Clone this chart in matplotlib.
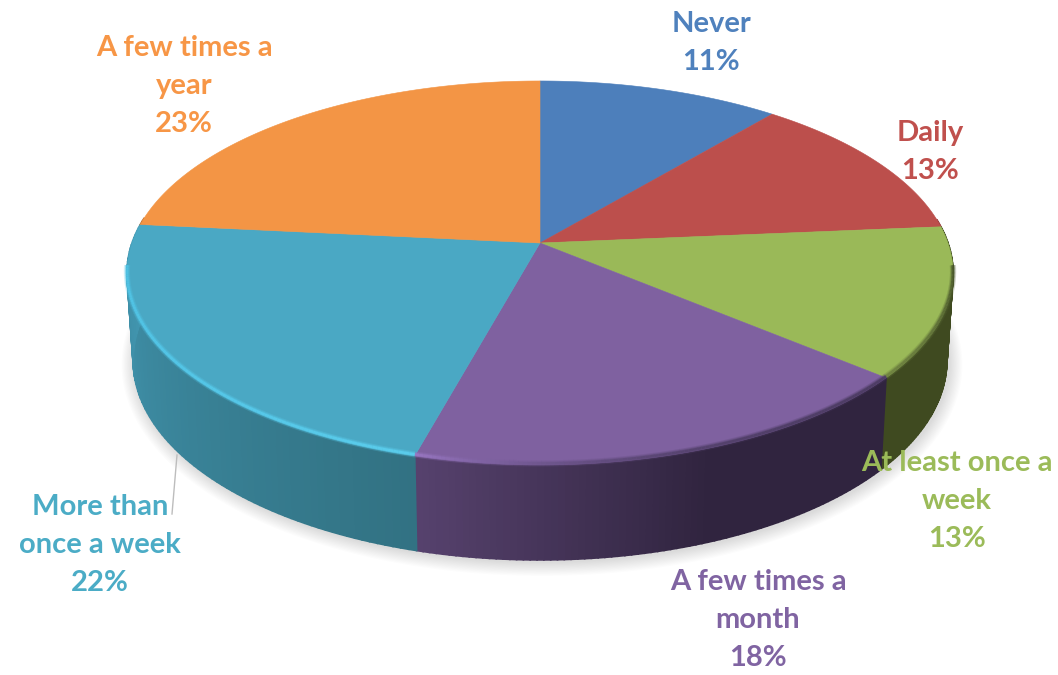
import numpy as np
import matplotlib
matplotlib.use('Agg')
import matplotlib.pyplot as plt
from matplotlib.patches import Polygon
from matplotlib.collections import LineCollection

# shares, clockwise from 12 o'clock
categories = ['Never', 'Daily', 'At least once a\nweek', 'A few times a\nmonth',
              'More than\nonce a week', 'A few times a\nyear']
values = [11.0, 12.6, 12.6, 18.0, 22.4, 23.4]

top_colors = ['#4d7fbb', '#bc4f4c', '#9ab958', '#7f61a0', '#4aa8c4', '#f39545']
text_colors = ['#4f81bd', '#c0504d', '#9bbb59', '#8064a2', '#4bacc6', '#f79646']
# side wall colour at start and end of each slice (clockwise, so right to left on the front)
side_colors = [('#3a5f8c', '#3a5f8c'), ('#8c3b39', '#8c3b39'), ('#3f4a20', '#3f4a20'),
               ('#30243f', '#57426e'), ('#327283', '#4297b1'), ('#b06a30', '#b06a30')]
rim_colors = [('#5a90d0', '#5a90d0'), ('#d06060', '#d06060'), ('#46532a', '#6d8040'),
              ('#4a3a60', '#9a78c4'), ('#5cd0f0', '#50c4e6'), ('#ffa860', '#ffa860')]
label_xy = [(711, 43), (930, 152), (957, 501), (758, 620), (100, 545), (184, 86)]

CX, CY = 540, 243
R, H, K = 408, 187.3, 0.156


def project(theta):
    # projective map of the unit disc, theta clockwise from the top
    u, v = np.sin(theta), np.cos(theta)
    w = 1 + K * v
    return CX + R * u / w, CY - H * v / w


def project_bottom(theta):
    x, y = project(theta)
    v = np.cos(theta)
    return CX + (x - CX) * 0.985, y + 86 + 9 * np.clip(-v, 0, 1)


def mix(c1, c2, t):
    a = np.array(matplotlib.colors.to_rgb(c1))
    b = np.array(matplotlib.colors.to_rgb(c2))
    return tuple(a + (b - a) * t)


fig = plt.figure(figsize=(10.58, 6.75), dpi=100)
ax = fig.add_axes([0, 0, 1, 1])
ax.set_xlim(0, 1058)
ax.set_ylim(675, 0)
ax.axis('off')

edges = np.concatenate([[0], np.cumsum(values)]) / sum(values) * 2 * np.pi

# soft shadow under the disc
all_t = np.linspace(0, 2 * np.pi, 300)
bx, by = project_bottom(all_t)
for grow in np.linspace(14, 1, 12):
    ax.fill((bx - CX) * (1 + grow / 420) + CX + 2, (by - 320) * (1 + grow / 240) + 320 + 2,
            color='black', alpha=0.012, lw=0, zorder=1)

# side wall, only the part of the rim facing the viewer
for i in range(len(values)):
    t = np.linspace(edges[i], edges[i + 1], 80)
    for j in range(len(t) - 1):
        if np.cos(t[j]) > 0.12 and np.cos(t[j + 1]) > 0.12:
            continue
        x0, y0 = project(t[j])
        x1, y1 = project(t[j + 1])
        x2, y2 = project_bottom(t[j + 1])
        x3, y3 = project_bottom(t[j])
        f = max((j - 35) / 44, 0) if i == 3 else j / 79
        col = mix(side_colors[i][0], side_colors[i][1], f)
        ax.add_patch(Polygon([(x0, y0), (x1, y1), (x2, y2), (x3, y3)], closed=True,
                             fc=col, ec=col, lw=1.2, zorder=2))

# top face
for i in range(len(values)):
    t = np.linspace(edges[i], edges[i + 1], 120)
    x, y = project(t)
    pts = np.column_stack([np.r_[CX, x], np.r_[CY, y]])
    ax.add_patch(Polygon(pts, closed=True, fc=top_colors[i], ec=top_colors[i], lw=0.4, zorder=3))

# bevel along the front edge
for i in range(len(values)):
    t = np.linspace(edges[i], edges[i + 1], 120)
    t = t[np.cos(t) < -0.12]
    if len(t) < 2:
        continue
    x, y = project(t)
    pts = np.column_stack([x, y - 1.5])
    segs = np.stack([pts[:-1], pts[1:]], axis=1)
    f = np.linspace(0, 1, len(segs)) ** 3 if i == 3 else np.linspace(0, 1, len(segs))
    cols = [mix(rim_colors[i][0], rim_colors[i][1], a) for a in f]
    for lw, a in [(4.5, 0.25), (3, 0.4), (1.8, 0.8)]:
        ax.add_collection(LineCollection(segs, colors=cols, linewidths=lw, alpha=a,
                                         capstyle='butt', zorder=4))

# leader line for the blue label
ax.plot([177, 172], [455, 514], color='#bdbdbd', lw=1, zorder=2)

for i, name in enumerate(categories):
    ax.text(label_xy[i][0], label_xy[i][1], f'{name}\n{round(values[i])}%',
            color=text_colors[i], ha='center', va='center', multialignment='center',
            fontsize=21, fontweight='bold', family=['Lato', 'DejaVu Sans'],
            linespacing=1.55, zorder=6)

fig.savefig('out.png', dpi=100)
